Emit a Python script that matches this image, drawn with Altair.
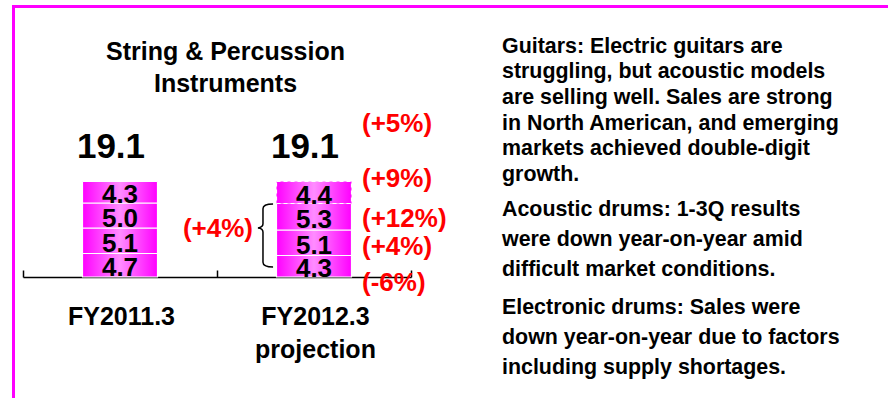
import altair as alt
import pandas as pd

# ---------------- data ----------------
categories = ["FY2011.3", "FY2012.3"]
category_labels = ["FY2011.3", "FY2012.3\nprojection"]
segments_fy2011 = [4.7, 5.1, 5.0, 4.3]   # bottom -> top
segments_fy2012 = [4.3, 5.1, 5.3, 4.4]   # bottom -> top
totals = [19.1, 19.1]
growth_total = "(+5%)"
growth_segments = ["(-6%)", "(+4%)", "(+12%)", "(+9%)"]  # bottom -> top
growth_lower_three = "(+4%)"
title_lines = ["String & Percussion", "Instruments"]
note_guitars = ["Guitars: Electric guitars are",
                "struggling, but acoustic models",
                "are selling well. Sales are strong",
                "in North American, and emerging",
                "markets achieved double-digit",
                "growth."]
note_acoustic = ["Acoustic drums: 1-3Q results",
                 "were down year-on-year amid",
                 "difficult market conditions."]
note_electronic = ["Electronic drums: Sales were",
                   "down year-on-year due to factors",
                   "including supply shortages."]

FONT = "Liberation Sans"
MAGENTA = "#FF00FF"

# ---------------- tables ----------------
rows = []
for cat, vals in zip(categories, [segments_fy2011, segments_fy2012]):
    base = 0.0
    for i, v in enumerate(vals):
        rows.append(dict(cat=cat, seg=i, value=v, y0=base, y1=base + v,
                         mid=base + v / 2, label=f"{v:.1f}"))
        base += v
seg_df = pd.DataFrame(rows)
tot_df = pd.DataFrame({"cat": categories, "total": totals,
                       "label": [f"{t:.1f}" for t in totals]})
cat_df = pd.DataFrame({"cat": categories, "label": category_labels})

x_scale = alt.Scale(domain=categories, range=[23, 411], paddingInner=0, paddingOuter=0)
y_scale = alt.Scale(domain=[0, 55.4], range=[277, 0])

x_enc = alt.X("cat:N", scale=x_scale, title=None,
              axis=alt.Axis(orient="top", offset=-277, labels=False, title=None,
                            tickBand="extent", tickSize=7, tickWidth=1.5,
                            tickColor="black", domainColor="black", domainWidth=1.5,
                            grid=False))


def yq(field):
    return alt.Y(field, type="quantitative", scale=y_scale, axis=None)


gradient = {
    "gradient": "linear", "x1": 0, "x2": 1, "y1": 0, "y2": 0,
    "stops": [
        {"offset": 0, "color": "#FF00FF"},
        {"offset": 0.5, "color": "#FF8CFF"},
        {"offset": 1, "color": "#FF00FF"},
    ],
}

bars = alt.Chart(seg_df).mark_bar(fill=gradient, stroke="white", strokeWidth=1.2,
                                  size=75).encode(
    x=x_enc,
    y=yq("y1"),
    y2="y0:Q",
    strokeDash=alt.condition("datum.cat == 'FY2012.3' && datum.seg == 3",
                             alt.value([4, 3]), alt.value([1, 0])),
)

seg_text = alt.Chart(seg_df).mark_text(font=FONT, fontSize=26, fontWeight="bold",
                                       baseline="alphabetic", dy=11,
                                       color="black").encode(
    x=x_enc, y=yq("mid"), text="label:N")

tot_text = alt.Chart(tot_df).mark_text(font=FONT, fontSize=35, fontWeight="bold",
                                       baseline="alphabetic", dy=-23.5, dx=-9,
                                       color="black").encode(
    x=x_enc, y=yq("total"), text="label:N")

cat_text = alt.Chart(cat_df).mark_text(font=FONT, fontSize=25, fontWeight="bold",
                                       baseline="alphabetic", lineBreak="\n",
                                       lineHeight=32.5, dx=1.5,
                                       color="black").encode(
    x=x_enc, y=alt.value(325), text="label:N")

# red growth labels anchored to the FY2012.3 bar
fy12 = seg_df[seg_df.cat == "FY2012.3"].reset_index(drop=True)
red_specs = [(growth_total, totals[1], -49.5)]
red_offsets = [24.25, 12.25, 9.75, -6]
for i, txt in enumerate(growth_segments):
    red_specs.append((txt, fy12.mid[i], red_offsets[i]))

red_layers = []
for txt, anchor, dy in red_specs:
    d = pd.DataFrame({"cat": ["FY2012.3"], "anchor": [anchor], "label": [txt]})
    red_layers.append(
        alt.Chart(d).mark_text(font=FONT, fontSize=26, fontWeight="bold",
                               align="left", baseline="alphabetic", dx=48, dy=dy,
                               color="#FF0000").encode(
            x=x_enc, y=yq("anchor"), text="label:N"))

lower3 = fy12.y1[2] / 2
d_l3 = pd.DataFrame({"cat": ["FY2012.3"], "anchor": [lower3], "label": [growth_lower_three]})
left_red = alt.Chart(d_l3).mark_text(font=FONT, fontSize=26, fontWeight="bold",
                                     align="right", baseline="alphabetic", dx=-61, dy=-3.5,
                                     color="#FF0000").encode(
    x=x_enc, y=yq("anchor"), text="label:N")

one = pd.DataFrame({"a": [0]})
BRACE = ("M 0.24 -1 C 0.08 -1 -0.08 -0.97 -0.08 -0.85 L -0.08 -0.37 "
         "C -0.08 -0.29 -0.14 -0.25 -0.24 -0.24 C -0.14 -0.23 -0.08 -0.19 -0.08 -0.11 "
         "L -0.08 0.85 C -0.08 0.97 0.08 1 0.24 1")
brace = alt.Chart(one).mark_point(shape=BRACE, filled=False, stroke="black",
                                  strokeWidth=1.5, size=3969, opacity=1).encode(
    x=alt.value(265.5), y=alt.value(235.5))

title = alt.Chart(one).mark_text(font=FONT, fontSize=25, fontWeight="bold",
                                 baseline="alphabetic", lineBreak="\n", lineHeight=32.3,
                                 color="black").encode(
    x=alt.value(225.5), y=alt.value(60), text=alt.value("\n".join(title_lines)))


def note(lines, y, lh):
    return alt.Chart(one).mark_text(font=FONT, fontSize=21.4, fontWeight="bold",
                                    align="left", baseline="alphabetic",
                                    lineBreak="\n", lineHeight=lh,
                                    color="black").encode(
        x=alt.value(502), y=alt.value(y), text=alt.value("\n".join(lines)))


notes = [note(note_guitars, 52.8, 25.65),
         note(note_acoustic, 215.5, 30.3),
         note(note_electronic, 313.5, 30)]

frame_left = alt.Chart(one).mark_rule(color=MAGENTA, strokeWidth=3).encode(
    x=alt.value(13.5), y=alt.value(5), y2=alt.value(398))
frame_top = alt.Chart(one).mark_rule(color=MAGENTA, strokeWidth=3).encode(
    x=alt.value(12), x2=alt.value(888), y=alt.value(6.5))

chart = alt.layer(
    frame_left, frame_top, bars, seg_text, tot_text, cat_text,
    *red_layers, left_red, brace, title, *notes
).properties(
    width=888, height=398,
    autosize=alt.AutoSizeParams(type="none"),
    padding=0,
    background="white",
).configure_view(strokeWidth=0)

chart.save("out.html", embed_options={"renderer": "svg", "actions": False})
